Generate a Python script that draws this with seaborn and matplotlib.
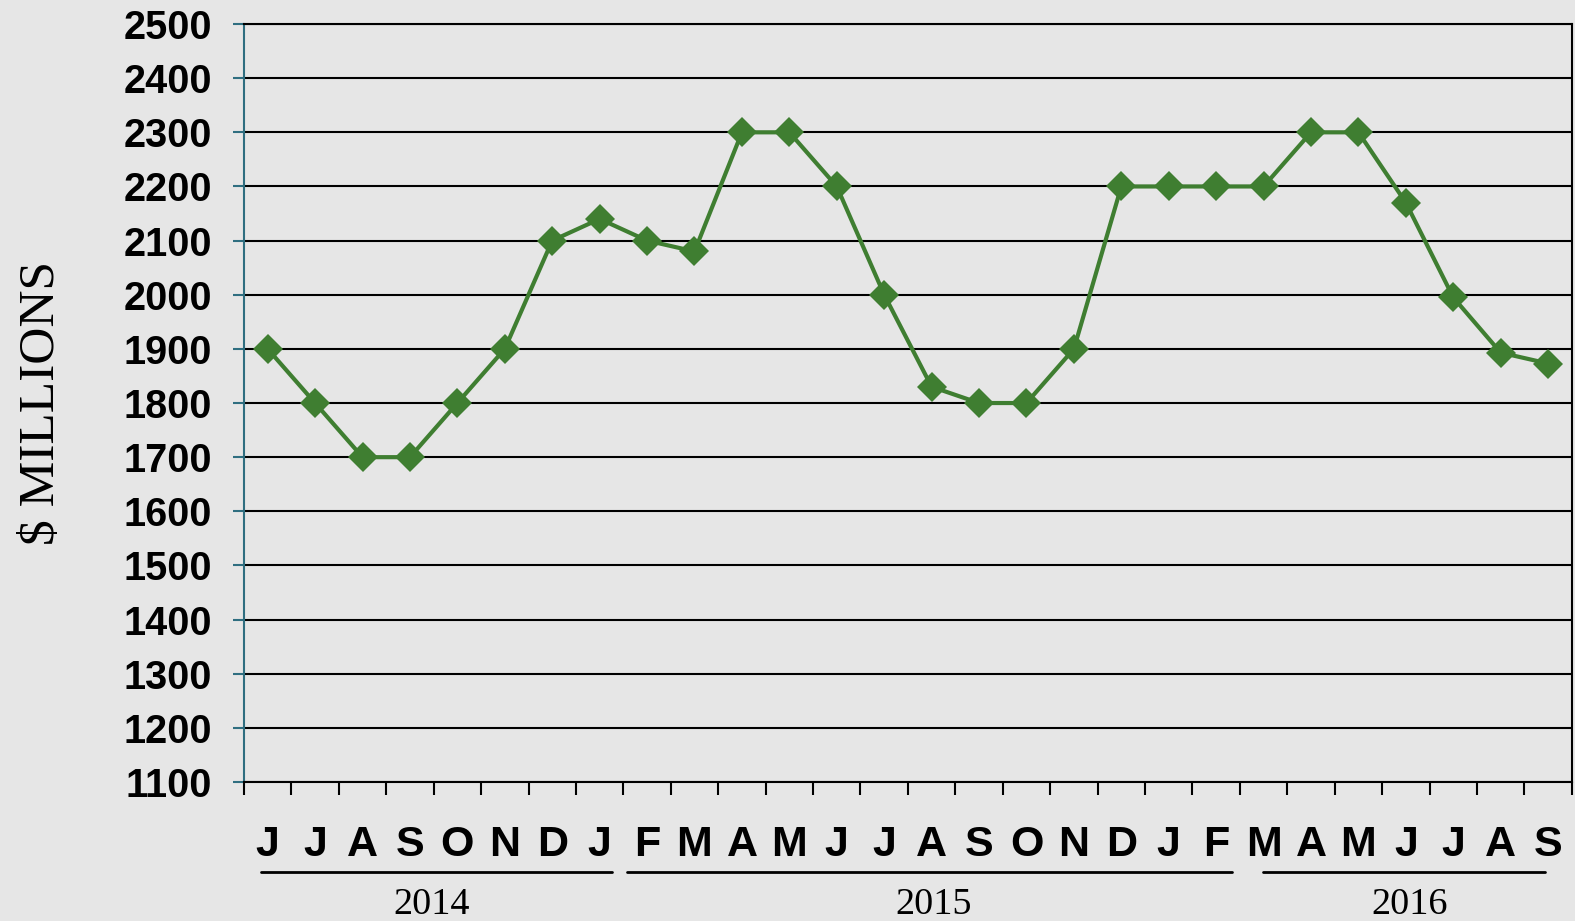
import numpy as np
import pandas as pd
import matplotlib
matplotlib.use("Agg")
import matplotlib.pyplot as plt
import matplotlib.transforms as mtransforms
import seaborn as sns

months = ["J", "J", "A", "S", "O", "N", "D", "J", "F", "M", "A", "M", "J", "J",
          "A", "S", "O", "N", "D", "J", "F", "M", "A", "M", "J", "J", "A", "S"]
values = [1900, 1800, 1700, 1700, 1800, 1900, 2100, 2140, 2100, 2080, 2300, 2300, 2200, 2000,
          1830, 1800, 1800, 1900, 2200, 2200, 2200, 2200, 2300, 2300, 2170, 1995, 1893, 1873]
years = ["2014", "2015", "2016"]
year_spans = [(-0.14, 7.26), (7.57, 20.33), (20.98, 26.93)]
year_centers = [3.46, 14.05, 24.08]
y_ticks = list(range(1100, 2501, 100))

df = pd.DataFrame({"idx": np.arange(len(values)), "value": values})

sns.set_theme(style="white")
plt.rcParams["font.family"] = ["Liberation Sans", "DejaVu Sans"]
plt.rcParams["text.color"] = "black"
plt.rcParams["xtick.color"] = "black"
plt.rcParams["ytick.color"] = "black"
plt.rcParams["axes.labelcolor"] = "black"

bg = "#E6E6E6"
green = "#3F7E31"
teal = "#2F6E80"

fig = plt.figure(figsize=(15.75, 9.21), dpi=100, facecolor=bg)
ax = fig.add_axes([0.1549, 0.1509, 0.998 - 0.1549, 0.9739 - 0.1509])
ax.set_facecolor(bg)

for y in y_ticks:
    ax.axhline(y, color="black", lw=1.5, zorder=1)

sns.lineplot(data=df, x="idx", y="value", ax=ax, color=green, lw=3.0,
             marker="D", markersize=15, markeredgewidth=0, zorder=3)

ax.set_xlim(-0.5, len(values) - 0.5)
ax.set_ylim(1100, 2500)
ax.set_yticks(y_ticks)
ax.set_yticklabels([str(v) for v in y_ticks], fontsize=28.5, fontweight="bold", color="black")
ax.tick_params(axis="y", left=True, direction="out", length=8, width=1.5, color=teal, pad=15)

ax.set_xticks(np.arange(len(values)))
ax.set_xticklabels(months, fontsize=31, fontweight="bold", color="black")
ax.set_xticks(np.arange(-0.5, len(values)), minor=True)
ax.tick_params(axis="x", which="major", bottom=True, length=0, pad=31)
ax.tick_params(axis="x", which="minor", bottom=True, direction="out", length=9, width=1.5, color="black")
ax.set_xlabel("")

ax.set_ylabel("$ MILLIONS", family=["Liberation Serif", "DejaVu Serif"], fontsize=37,
              labelpad=42, color="black")

for side in ["left", "bottom", "right", "top"]:
    ax.spines[side].set_visible(True)
    ax.spines[side].set_linewidth(1.5)
ax.spines["left"].set_color(teal)
ax.spines["bottom"].set_color("black")
ax.spines["right"].set_color("black")
ax.spines["top"].set_color("black")

trans = mtransforms.blended_transform_factory(ax.transData, ax.transAxes)
for yr, (x0, x1), xc in zip(years, year_spans, year_centers):
    ax.plot([x0, x1], [-0.119, -0.119], color="black", lw=2, transform=trans, clip_on=False)
    ax.text(xc, -0.162, yr, transform=trans, ha="center", va="center", fontsize=27.5,
            family=["Liberation Serif", "DejaVu Serif"], color="black")

fig.savefig("out.png", dpi=100, facecolor=bg)
